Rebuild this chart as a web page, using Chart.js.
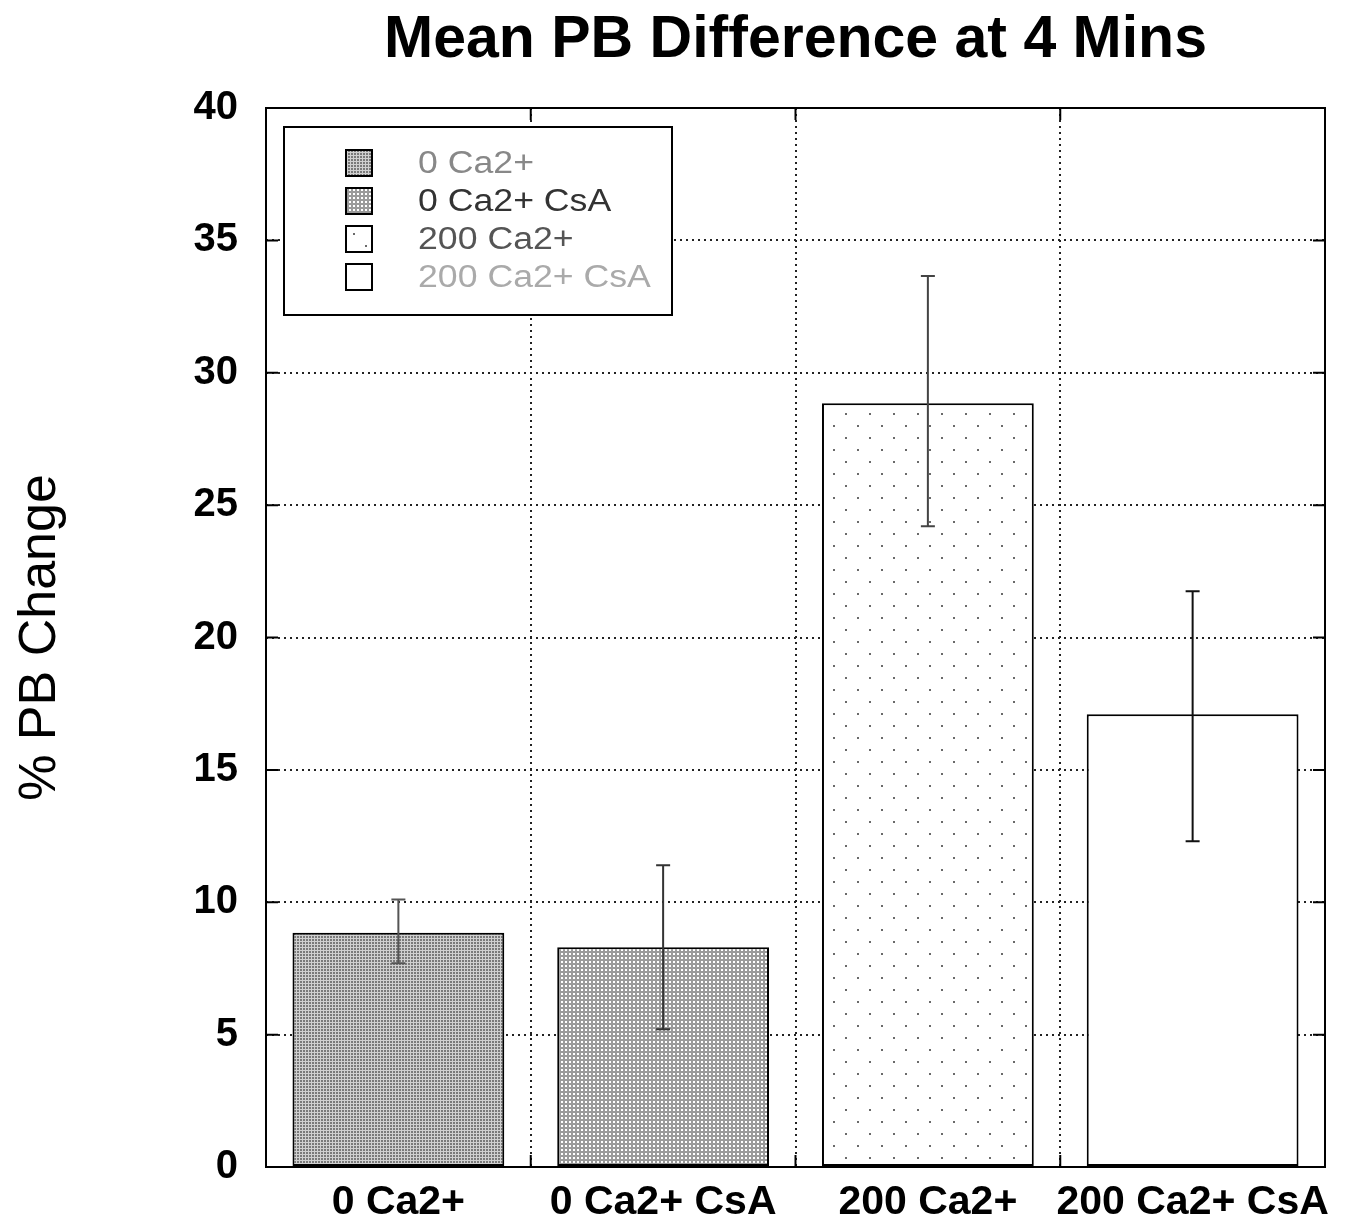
<!DOCTYPE html>
<html>
<head>
<meta charset="utf-8">
<title>Mean PB Difference at 4 Mins</title>
<script src="https://cdn.jsdelivr.net/npm/chart.js@4.4.1/dist/chart.umd.min.js"></script>
<style>
  body { margin: 0; background: #fff; }
  canvas { display: block; }
</style>
</head>
<body>
<canvas id="myChart" width="1347" height="1224"></canvas>
<script>
/* Mean % PB change at 4 mins, with error bars */
const labels = ['0 Ca2+', '0 Ca2+ CsA', '200 Ca2+', '200 Ca2+ CsA'];
const meanChange = [8.85, 8.3, 28.85, 17.1];
const errLow = [7.7, 5.2, 24.2, 12.3];
const errHigh = [10.1, 11.4, 33.65, 21.75];
const yTicks = [0, 5, 10, 15, 20, 25, 30, 35, 40];

const FONT = "'Liberation Sans', Arial, Helvetica, sans-serif";
const canvas = document.getElementById('myChart');
const ctx = canvas.getContext('2d');

function makePattern(w, h, draw) {
  const c = document.createElement('canvas');
  c.width = w;
  c.height = h;
  draw(c.getContext('2d'));
  return ctx.createPattern(c, 'repeat');
}

// fine grey weave
const fill1 = makePattern(3, 3, g => {
  g.fillStyle = '#d0d0d0'; g.fillRect(0, 0, 3, 3);
  g.fillStyle = '#7a7a7a'; g.fillRect(0, 0, 2, 2);
});
// white dots on grey
const fill2 = makePattern(4, 4, g => {
  g.fillStyle = '#9a9a9a'; g.fillRect(0, 0, 4, 4);
  g.fillStyle = '#fff'; g.fillRect(1, 1, 2, 2);
});
// sparse staggered dots
const fill3 = makePattern(24, 24, g => {
  g.fillStyle = '#fff'; g.fillRect(0, 0, 24, 24);
  g.fillStyle = '#6a6a6a';
  g.fillRect(5, 5, 2, 2);
  g.fillRect(17, 17, 2, 2);
});
const fills = [fill1, fill2, fill3, '#fff'];

const data = {
  labels: labels,
  datasets: [{
    data: meanChange,
    backgroundColor: fills,
    borderColor: '#000',
    borderWidth: 2,
    borderSkipped: false,
    barPercentage: 0.8,
    categoryPercentage: 1
  }]
};

const errorBars = {
  id: 'errorBars',
  afterDatasetsDraw(chart) {
    const c = chart.ctx;
    const y = chart.scales.y;
    const bars = chart.getDatasetMeta(0).data;
    const colors = ['#555', '#333', '#444', '#111'];
    c.save();
    c.lineWidth = 2;
    bars.forEach((bar, i) => {
      const top = y.getPixelForValue(errHigh[i]);
      const bot = y.getPixelForValue(errLow[i]);
      c.strokeStyle = colors[i];
      c.beginPath();
      c.moveTo(bar.x, top); c.lineTo(bar.x, bot);
      c.moveTo(bar.x - 7, top); c.lineTo(bar.x + 7, top);
      c.moveTo(bar.x - 7, bot); c.lineTo(bar.x + 7, bot);
      c.stroke();
    });
    c.restore();
  }
};

const boxLegend = {
  id: 'boxLegend',
  afterDatasetsDraw(chart) {
    const c = chart.ctx;
    const a = chart.chartArea;
    const textColors = ['#888', '#333', '#555', '#aaa'];
    const bx = a.left + 18, by = a.top + 19;
    c.save();
    c.fillStyle = '#fff';
    c.fillRect(bx, by, 388, 188);
    c.strokeStyle = '#000';
    c.lineWidth = 2;
    c.strokeRect(bx, by, 388, 188);
    c.font = '31px ' + FONT;
    c.textBaseline = 'middle';
    labels.forEach((lab, i) => {
      const cy = by + 36 + i * 38;
      c.fillStyle = fills[i];
      c.fillRect(bx + 62, cy - 13, 26, 26);
      c.strokeRect(bx + 62, cy - 13, 26, 26);
      c.fillStyle = textColors[i];
      // text in this figure is set slightly wide
      c.save();
      c.translate(bx + 134, cy + 1);
      c.scale(1.15, 1);
      c.fillText(lab, 0, 0);
      c.restore();
    });
    c.restore();
  }
};

const frame = {
  id: 'frame',
  afterDraw(chart) {
    const c = chart.ctx;
    const a = chart.chartArea;
    const x = chart.scales.x;
    const y = chart.scales.y;
    c.save();
    c.strokeStyle = '#000';
    c.lineWidth = 2;
    c.strokeRect(a.left, a.top, a.right - a.left, a.bottom - a.top);
    c.beginPath();
    yTicks.forEach(v => {
      const py = y.getPixelForValue(v);
      c.moveTo(a.left, py); c.lineTo(a.left + 12, py);
      c.moveTo(a.right, py); c.lineTo(a.right - 12, py);
    });
    for (let i = 1; i < labels.length; i++) {
      const px = (x.getPixelForValue(i - 1) + x.getPixelForValue(i)) / 2;
      c.moveTo(px, a.top); c.lineTo(px, a.top + 12);
      c.moveTo(px, a.bottom); c.lineTo(px, a.bottom - 12);
    }
    c.stroke();
    c.fillStyle = '#000';
    c.font = 'bold 59px ' + FONT;
    c.textAlign = 'center';
    c.textBaseline = 'alphabetic';
    c.fillText('Mean PB Difference at 4 Mins', (a.left + a.right) / 2, 57);
    c.restore();
  }
};

const config = {
  type: 'bar',
  data: data,
  options: {
    responsive: false,
    animation: false,
    layout: {
      padding: { top: 108, right: 22, left: 0, bottom: 0 }
    },
    plugins: {
      legend: { display: false },
      tooltip: { enabled: false }
    },
    scales: {
      x: {
        offset: true,
        afterFit(scale) { scale.height = 57; },
        grid: {
          offset: true,
          drawTicks: false,
          color: '#222',
          lineWidth: 2
        },
        border: { display: false, dash: [2, 4] },
        ticks: {
          color: '#000',
          padding: 11,
          autoSkip: false,
          maxRotation: 0,
          minRotation: 0,
          font: { family: FONT, size: 41, weight: 'bold' }
        }
      },
      y: {
        min: 0,
        max: 40,
        afterFit(scale) { scale.width = 266; },
        afterBuildTicks(scale) { scale.ticks = yTicks.map(v => ({ value: v })); },
        grid: {
          drawTicks: false,
          color: '#222',
          lineWidth: 2
        },
        border: { display: false, dash: [2, 4] },
        ticks: {
          color: '#000',
          padding: 28,
          font: { family: FONT, size: 40, weight: 'bold' }
        },
        title: {
          display: true,
          text: '% PB Change',
          color: '#000',
          padding: { top: 9, bottom: 0 },
          font: { family: FONT, size: 52 }
        }
      }
    }
  },
  plugins: [errorBars, boxLegend, frame]
};

const myChart = new Chart(canvas, config);
</script>
</body>
</html>
